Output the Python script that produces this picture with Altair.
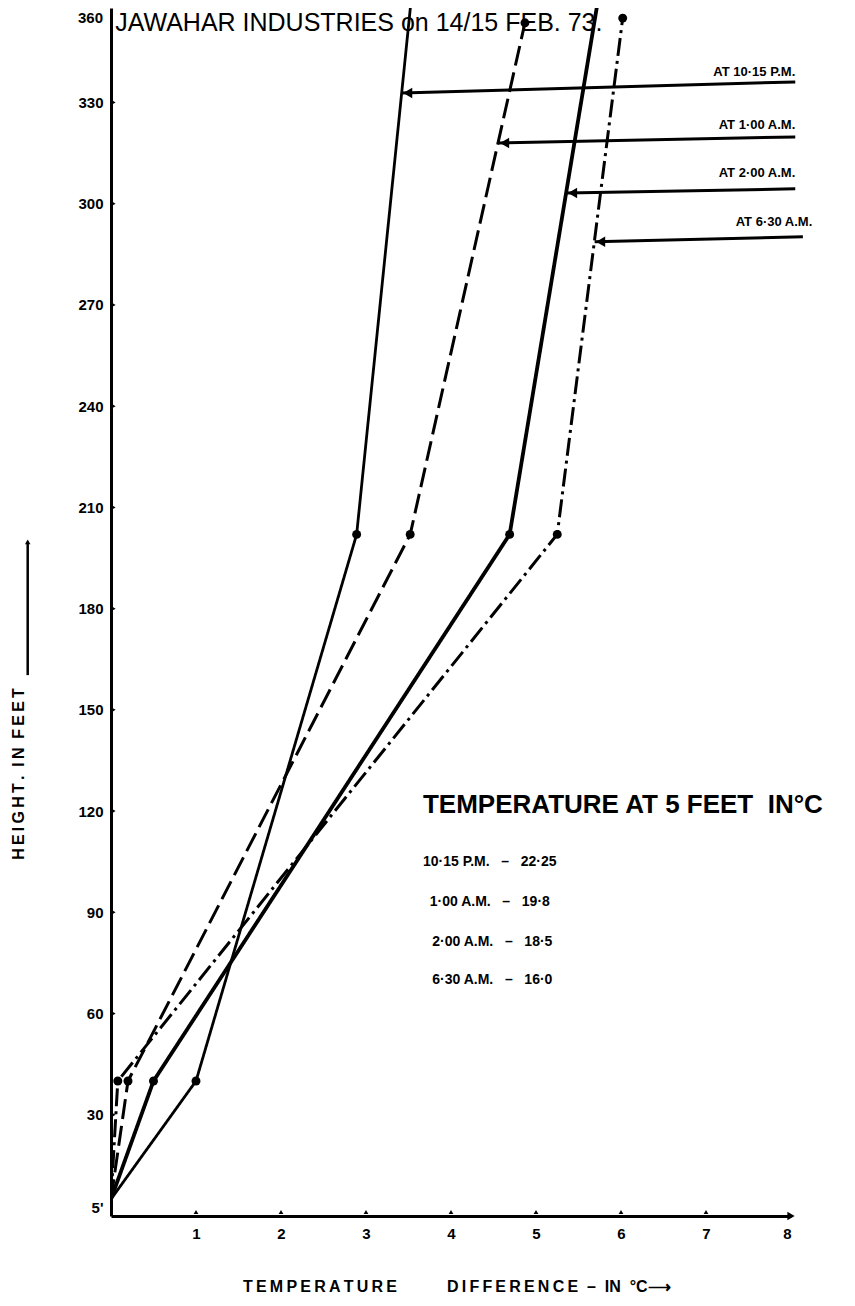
import altair as alt
import pandas as pd

# ---------------- data ----------------
series = ["10·15 P.M.", "1·00 A.M.", "2·00 A.M.", "6·30 A.M."]

height_1015 = [5, 40, 202, 365]
temp_1015 = [0.0, 1.0, 2.89, 3.55]
height_0100 = [5, 40, 202, 353.6]
temp_0100 = [0.0, 0.2, 3.52, 4.87]
height_0200 = [5, 40, 202, 365]
temp_0200 = [0.0, 0.5, 4.69, 5.76]
height_0630 = [5, 40, 202, 355]
temp_0630 = [0.0, 0.08, 5.25, 6.02]

temp_at_5ft = ["22·25", "19·8", "18·5", "16·0"]

x_ticks = [1, 2, 3, 4, 5, 6, 7, 8]
y_ticks = [5, 30, 60, 90, 120, 150, 180, 210, 240, 270, 300, 330, 360]

# label arrows (tip on the curve, tail at the right, in data units)
arrow_tip_temp = [3.42, 4.56, 5.36, 5.69]
arrow_tip_height = [332.8, 318.0, 303.2, 288.7]
arrow_tail_temp = [8.05, 8.05, 8.05, 8.14]
arrow_tail_height = [336.1, 319.8, 304.4, 290.2]
arrow_label_temp = [8.05, 8.05, 8.05, 8.25]
arrow_label_height = [339.1, 323.4, 309.1, 294.6]

NB = "\u00a0"
TS = "\u2009"
title_text = "JAWAHAR INDUSTRIES on 14/15 FEB. 73."
box_title = "TEMPERATURE AT 5 FEET" + NB * 2 + "IN°C"
x_title_left = TS.join("TEMPERATURE")
x_title_right = TS.join("DIFFERENCE") + NB * 2 + "–" + NB * 2 + "IN" + NB * 2 + "°C⟶"
y_title = TS.join("HEIGHT.") + NB * 2 + TS.join("IN") + NB * 2 + TS.join("FEET")

Y_TOP = 358  # top of the visible plot area (feet)

# ---------------- tables ----------------
curves = {
    series[0]: (temp_1015, height_1015),
    series[1]: (temp_0100, height_0100),
    series[2]: (temp_0200, height_0200),
    series[3]: (temp_0630, height_0630),
}
rows = []
for s, (tt, hh) in curves.items():
    for i, (t, h) in enumerate(zip(tt, hh)):
        rows.append({"series": s, "temp": t, "height": h, "idx": i})
df = pd.DataFrame(rows)

arrows = pd.DataFrame({
    "series": series,
    "temp": arrow_tip_temp, "height": arrow_tip_height,
    "temp2": arrow_tail_temp, "height2": arrow_tail_height,
})
arrow_labels = pd.DataFrame({
    "label": ["AT " + s for s in series],
    "temp": arrow_label_temp, "height": arrow_label_height,
})
box_lines = pd.DataFrame({
    "label": [f"{s}{NB*3}–{NB*3}{t}" for s, t in zip(series, temp_at_5ft)],
    "temp": [3.67, 3.75, 3.78, 3.78],
    "height": [104.9, 93.1, 81.2, 69.9],
})

xs = alt.Scale(domain=[0, 8], nice=False, zero=False)
ys = alt.Scale(domain=[0, Y_TOP], nice=False, zero=False)
X = alt.X("temp:Q", scale=xs, title=None,
          axis=alt.Axis(values=x_ticks, format="d", labelPadding=10))
Y = alt.Y("height:Q", scale=ys, title=None,
          axis=alt.Axis(values=[v for v in y_ticks if v <= Y_TOP], labelPadding=8,
                        labelOffset=alt.condition("datum.value == 5", alt.value(8), alt.value(0)),
                        labelExpr="datum.value == 5 ? \"5'\" : datum.label"))

FONT = "Liberation Sans"

styles = {
    series[0]: dict(strokeWidth=2.8, strokeDash=[1, 0]),
    series[1]: dict(strokeWidth=3, strokeDash=[20, 7]),
    series[2]: dict(strokeWidth=3.8, strokeDash=[1, 0]),
    series[3]: dict(strokeWidth=3, strokeDash=[18, 5, 3, 5]),
}

layers = []
for s in series:
    layers.append(
        alt.Chart(df[df.series == s]).mark_line(color="black", clip=True, **styles[s])
        .encode(x=X, y=Y, order="idx:Q")
    )

points = alt.Chart(df[df.height > 5]).mark_circle(color="black", size=80, opacity=1, clip=True).encode(x=X, y=Y)

arrow_rules = alt.Chart(arrows).mark_rule(color="black", strokeWidth=3).encode(
    x=X, y=Y, x2="temp2:Q", y2="height2:Q")
arrow_heads = alt.Chart(arrows).mark_point(shape="triangle-left", filled=True, color="black",
                                            size=110, opacity=1, xOffset=6).encode(x=X, y=Y)
arrow_text = alt.Chart(arrow_labels).mark_text(align="right", baseline="middle", fontSize=13,
                                               fontWeight="bold", font=FONT, color="black").encode(
    x=X, y=Y, text="label:N")

# decorations (axis ends, tick nubs, the top label)
tick_df = pd.DataFrame({"temp": x_ticks[:-1], "height": [0] * (len(x_ticks) - 1)})
tick_nubs = alt.Chart(tick_df).mark_point(shape="triangle-up", filled=True, color="black",
                                          size=22, opacity=1, yOffset=-4).encode(x=X, y=Y)
ytick_df = pd.DataFrame({"temp": 0, "height": [v for v in y_ticks if 5 < v <= Y_TOP]})
ytick_nubs = alt.Chart(ytick_df).mark_point(shape="triangle-right", filled=True, color="black",
                                            size=14, opacity=1, xOffset=3).encode(x=X, y=Y)
end_df = pd.DataFrame({"temp": [8], "height": [0]})
x_arrow = alt.Chart(end_df).mark_point(shape="triangle-right", filled=True, color="black",
                                       size=70, opacity=1).encode(x=X, y=Y)
top_df = pd.DataFrame({"label": [str(y_ticks[-1])], "temp": [0], "height": [Y_TOP]})
top_label = alt.Chart(top_df).mark_text(align="right", baseline="top", fontSize=15, fontWeight="bold",
                                        font=FONT, color="black", dx=-8, dy=3).encode(
    x=X, y=Y, text="label:N")

# texts
title_df = pd.DataFrame({"label": [title_text], "temp": [0.05], "height": [351.2]})
title = alt.Chart(title_df).mark_text(align="left", baseline="alphabetic", fontSize=25,
                                      font=FONT, color="black").encode(x=X, y=Y, text="label:N")

box_df = pd.DataFrame({"label": [box_title], "temp": [3.67], "height": [121.8]})
box_head = alt.Chart(box_df).mark_text(align="left", baseline="middle", fontSize=26,
                                       fontWeight="bold", font=FONT, color="black").encode(
    x=X, y=Y, text="label:N")
box_text = alt.Chart(box_lines).mark_text(align="left", baseline="middle", fontSize=14,
                                          fontWeight="bold", font=FONT, color="black").encode(
    x=X, y=Y, text="label:N")

xt_df = pd.DataFrame({"label": [x_title_left, x_title_right], "temp": [1.553, 3.953],
                      "height": [-21.0, -21.0]})
x_title_mark = alt.Chart(xt_df).mark_text(align="left", baseline="middle", fontSize=16,
                                          fontWeight="bold", font=FONT, color="black").encode(
    x=X, y=Y, text="label:N")

yt_df = pd.DataFrame({"label": [y_title], "temp": [-1.08], "height": [131.0]})
y_title_mark = alt.Chart(yt_df).mark_text(align="center", baseline="middle", angle=270, fontSize=16,
                                          fontWeight="bold", font=FONT, color="black").encode(
    x=X, y=Y, text="label:N")
yr_df = pd.DataFrame({"temp": [-0.98], "height": [160.3], "height2": [199.8]})
y_rule = alt.Chart(yr_df).mark_rule(color="black", strokeWidth=2.5).encode(x=X, y=Y, y2="height2:Q")
ya_df = pd.DataFrame({"temp": [-0.98], "height": [199.8]})
y_arrow = alt.Chart(ya_df).mark_point(shape="triangle-up", filled=True, color="black",
                                      size=30, opacity=1).encode(x=X, y=Y)

chart = alt.layer(
    *layers, points, arrow_rules, arrow_heads, arrow_text, tick_nubs, ytick_nubs, x_arrow, top_label,
    title, box_head, box_text, x_title_mark, y_title_mark, y_rule, y_arrow,
).properties(
    width=680, height=1208,
    autosize=alt.AutoSizeParams(type="none"),
    padding={"left": 103, "top": 0, "right": 56, "bottom": 80},
    background="white",
).configure_view(stroke=None).configure_axis(
    domainColor="black", domainWidth=3, ticks=False, grid=False,
    labelFont=FONT, labelFontWeight="bold", labelFontSize=15, labelColor="black",
)

chart.save("out.html", embed_options={"renderer": "svg", "actions": False})
